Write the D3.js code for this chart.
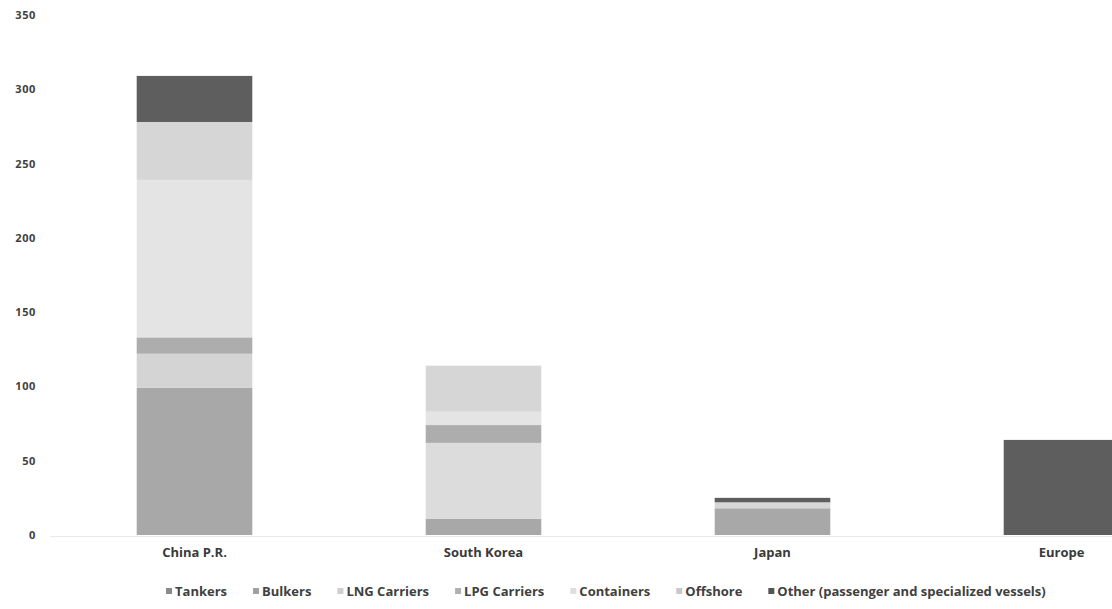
<!DOCTYPE html>
<html>
<head>
<meta charset="utf-8">
<script src="https://cdn.jsdelivr.net/npm/d3@7"></script>
<style>
  html, body { margin: 0; padding: 0; background: #fff; }
  svg { display: block; }
  text { font-family: "Open Sans", "Liberation Sans", sans-serif; font-weight: 700; }
</style>
</head>
<body>
<svg id="chart" width="1112" height="609"></svg>
<script>
// ---- data ----
const categories = ["China P.R.", "South Korea", "Japan", "Europe"];
const seriesNames = ["Tankers", "Bulkers", "LNG Carriers", "LPG Carriers", "Containers", "Offshore", "Other (passenger and specialized vessels)"];
const tankers    = [99, 11, 18, 0];
const bulkers    = [23, 0, 0, 0];
const lngCarriers = [0, 51, 0, 0];
const lpgCarriers = [11, 12, 0, 0];
const containers = [106, 9, 0, 0];
const offshore   = [39, 31, 4, 0];
const other      = [31, 0, 3, 64];
const yTicks = [0, 50, 100, 150, 200, 250, 300, 350];
const seriesColors = ["#a8a8a8", "#d4d4d4", "#dcdcdc", "#adadad", "#e4e4e4", "#d6d6d6", "#5e5e5e"];
const markerColors = ["#8a8a8a", "#a0a0a0", "#cfcfcf", "#b0b0b0", "#dedede", "#c8c8c8", "#555555"];

const seriesValues = [tankers, bulkers, lngCarriers, lpgCarriers, containers, offshore, other];
const table = categories.map((c, i) => {
  const row = { category: c };
  seriesNames.forEach((s, j) => { row[s] = seriesValues[j][i]; });
  return row;
});

const svg = d3.select("#chart");
const x = d3.scaleBand().domain(categories).range([50, 1206]).paddingInner(0.6).paddingOuter(0.3);
const y = d3.scaleLinear().domain([0, 350]).range([535, 15]);

// baseline
svg.append("line")
  .attr("x1", 50).attr("x2", 1112)
  .attr("y1", y(0) + 1.5).attr("y2", y(0) + 1.5)
  .attr("stroke", "#e8e8e8").attr("stroke-width", 1);

// y axis labels
const yAxis = d3.axisLeft(y).tickValues(yTicks).tickSize(0).tickPadding(0);
const yg = svg.append("g").attr("transform", "translate(36,0)").call(yAxis);
yg.select(".domain").remove();
yg.selectAll("text").attr("font-size", 11).attr("fill", "#404040")
  .style("letter-spacing", "0.6px")
  .style("font-family", "'Open Sans', sans-serif").style("font-weight", 700);

// stacked bars
const stack = d3.stack().keys(seriesNames);
const layers = stack(table);
svg.append("g").selectAll("g")
  .data(layers).join("g")
  .attr("fill", (d, i) => seriesColors[i])
  .selectAll("rect")
  .data(d => d).join("rect")
  .attr("x", d => x(d.data.category))
  .attr("width", x.bandwidth())
  .attr("y", d => y(d[1]))
  .attr("height", d => Math.max(0, y(d[0]) - y(d[1])));

// x axis labels
const xAxis = d3.axisBottom(x).tickSize(0).tickPadding(0);
const xg = svg.append("g").attr("transform", "translate(0,548)").call(xAxis);
xg.select(".domain").remove();
xg.selectAll("text").attr("font-size", 13).attr("fill", "#3a3a3a")
  .style("font-family", "'Open Sans', sans-serif").style("font-weight", 700);

// legend
const legend = svg.append("g").attr("transform", "translate(0,591)");
let lx = 166;
seriesNames.forEach((s, i) => {
  const g = legend.append("g").attr("transform", `translate(${lx},0)`);
  g.append("rect").attr("x", 0).attr("y", -3).attr("width", 6).attr("height", 6).attr("fill", markerColors[i]);
  const t = g.append("text").attr("x", 9).attr("y", 0).attr("dy", "0.35em")
    .attr("font-size", 13).attr("fill", "#404040").text(s);
  lx += 9 + t.node().getComputedTextLength() + 26;
});
</script>
</body>
</html>
